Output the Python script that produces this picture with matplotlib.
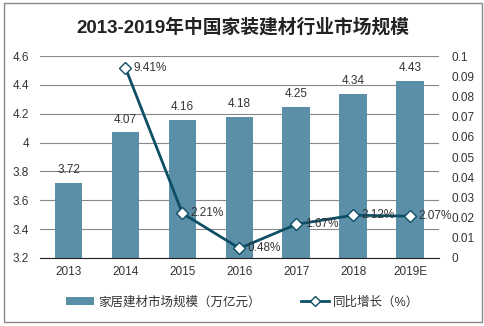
import matplotlib.pyplot as plt
from matplotlib.lines import Line2D
from matplotlib.patches import Patch, Rectangle

plt.rcParams['font.family'] = ['Liberation Sans', 'Noto Sans CJK SC', 'DejaVu Sans']

# data
years = ['2013', '2014', '2015', '2016', '2017', '2018', '2019E']
market_size = [3.72, 4.07, 4.16, 4.18, 4.25, 4.34, 4.43]
growth_years = years[1:]
growth = [0.0941, 0.0221, 0.0048, 0.0167, 0.0212, 0.0207]
growth_labels = ['9.41%', '2.21%', '0.48%', '1.67%', '2.12%', '2.07%']

bar_color = '#5B8FA8'
line_color = '#0E4F66'
text_color = '#333333'

fig = plt.figure(figsize=(4.85, 3.26), dpi=100)
fig.patches.append(Rectangle((0.008, 0.012), 0.985, 0.978, transform=fig.transFigure,
                             fill=False, edgecolor='#888888', linewidth=1))

ax = fig.add_axes([0.0825, 0.2086, 0.8225, 0.6195])
x = list(range(len(years)))
ax.bar(x, market_size, width=0.49, color=bar_color, zorder=2)
ax.set_ylim(3.2, 4.6)
ax.set_yticks([3.2, 3.4, 3.6, 3.8, 4.0, 4.2, 4.4, 4.6])
ax.set_yticklabels(['3.2', '3.4', '3.6', '3.8', '4', '4.2', '4.4', '4.6'])
ax.set_xlim(-0.5, len(years) - 0.5)
ax.set_xticks(x)
ax.set_xticklabels(years)
ax.grid(axis='y', color='#888888', linewidth=0.8, zorder=0)
for s in ['left', 'right', 'top']:
    ax.spines[s].set_visible(False)
ax.spines['bottom'].set_color('#222222')
ax.tick_params(axis='both', length=0, labelsize=8.5, colors=text_color)
ax.tick_params(axis='x', pad=6)
ax.tick_params(axis='y', pad=8)

for xi, v in zip(x, market_size):
    ax.annotate(f'{v:.2f}', (xi, v), xytext=(0, 5), textcoords='offset points',
                ha='center', va='bottom', fontsize=8.5, color=text_color, zorder=5)

ax2 = ax.twinx()
gx = x[1:]
ax2.plot(gx, growth, color=line_color, linewidth=2, marker='D', markersize=6,
         markerfacecolor='white', markeredgecolor=line_color, markeredgewidth=1, zorder=4)
ax2.set_ylim(0, 0.1)
ax2.set_yticks([i / 100 for i in range(11)])
ax2.set_yticklabels(['0'] + [f'{i / 100:.2f}' for i in range(1, 10)] + ['0.1'])
for s in ['left', 'right', 'top', 'bottom']:
    ax2.spines[s].set_visible(False)
ax2.tick_params(axis='y', length=0, labelsize=8.5, colors=text_color, pad=9)

for xi, v, lab in zip(gx, growth, growth_labels):
    ax2.annotate(lab, (xi, v), xytext=(6, 0), textcoords='offset points',
                 ha='left', va='center', fontsize=8.5, color=text_color, zorder=6)

fig.text(0.5, 0.917, '2013-2019年中国家装建材行业市场规模', ha='center', va='center',
         fontsize=13.5, fontweight='bold', color='#222222')

handles = [Patch(facecolor=bar_color, edgecolor='none'),
           Line2D([0], [0], color=line_color, linewidth=2, marker='D', markersize=5,
                  markerfacecolor='white', markeredgecolor=line_color)]
fig.legend(handles, ['家居建材市场规模（万亿元）', '同比增长（%）'], loc='center',
           bbox_to_anchor=(0.5, 0.073), ncol=2, frameon=False, fontsize=9,
           handlelength=2.3, handletextpad=0.3, columnspacing=3.2, labelcolor=text_color)

fig.savefig('out.png', dpi=100)
